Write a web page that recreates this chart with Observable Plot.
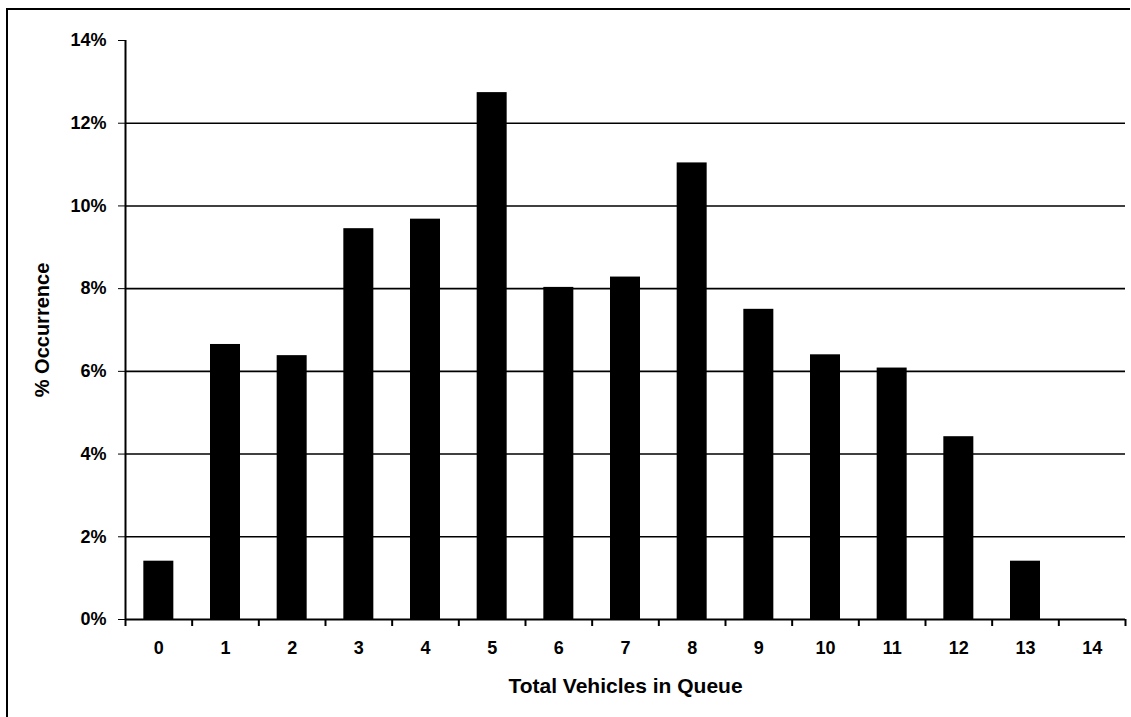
<!DOCTYPE html>
<html>
<head>
<meta charset="utf-8">
<script src="https://cdn.jsdelivr.net/npm/d3@7"></script>
<script src="https://cdn.jsdelivr.net/npm/@observablehq/plot@0.6"></script>
<style>
  html, body { margin: 0; padding: 0; background: #fff; }
  #wrap { position: relative; width: 1131px; height: 717px; overflow: hidden; }
  #frame { position: absolute; left: 6px; top: 8px; width: 1124px; height: 720px;
           border-left: 2px solid #000; border-top: 2px solid #000; box-sizing: border-box; }
  #chart { position: absolute; left: 0; top: 0; }
</style>
</head>
<body>
<div id="wrap"><div id="frame"></div><div id="chart"></div></div>
<script>
// Data
const vehicles = [0, 1, 2, 3, 4, 5, 6, 7, 8, 9, 10, 11, 12, 13, 14];
const occurrence = [1.41, 6.65, 6.38, 9.45, 9.68, 12.74, 8.03, 8.28, 11.04, 7.5, 6.4, 6.08, 4.42, 1.41, 0];
const yTicks = [0, 2, 4, 6, 8, 10, 12, 14];
const gridTicks = [2, 4, 6, 8, 10, 12];
const xTitle = "Total Vehicles in Queue";
const yTitle = "% Occurrence";

const halfBar = 0.225;
const data = vehicles.map((v, i) => ({v, pct: occurrence[i]})).filter(d => d.pct > 0);
const boundaries = vehicles.map(v => v - 0.5).concat([vehicles[vehicles.length - 1] + 0.5]);

const font = "'Liberation Sans', Arial, sans-serif";

const chart = Plot.plot({
  width: 1131,
  height: 717,
  marginLeft: 125,
  marginRight: 6,
  marginTop: 40,
  marginBottom: 98,
  style: {fontFamily: font, fontSize: "18px", fontWeight: "bold", color: "#000", background: "transparent"},
  x: {type: "linear", domain: [-0.5, 14.5]},
  y: {domain: [0, 14]},
  marks: [
    Plot.ruleY(gridTicks, {stroke: "#000", strokeWidth: 1.6}),
    Plot.rectY(data, {x1: d => d.v - halfBar, x2: d => d.v + halfBar, y1: 0, y2: "pct", fill: "#000"}),
    Plot.ruleX([boundaries[0]], {stroke: "#000", strokeWidth: 2}),
    Plot.ruleY([0], {stroke: "#000", strokeWidth: 2}),
    Plot.axisY({ticks: yTicks, tickFormat: d => d + "%", tickSize: 7, tickPadding: 12, tickWidth: 2,
      fontSize: 18, fontWeight: "bold", label: null}),
    Plot.axisY({ticks: [], tickSize: 0,
      label: yTitle, labelAnchor: "center", labelArrow: "none", labelOffset: 91, fontSize: 20, fontWeight: "bold"}),
    Plot.axisX({ticks: boundaries, tickFormat: () => "", tickSize: 7, strokeWidth: 2, label: null}),
    Plot.axisX({ticks: vehicles, tickFormat: d => String(d), tickSize: 0, tickPadding: 22,
      fontSize: 18, fontWeight: "bold", label: null}),
    Plot.axisX({ticks: [], tickSize: 0,
      label: xTitle, labelAnchor: "center", labelArrow: "none", labelOffset: 73, fontSize: 21, fontWeight: "bold"})
  ]
});
document.getElementById("chart").appendChild(chart);
</script>
</body>
</html>
